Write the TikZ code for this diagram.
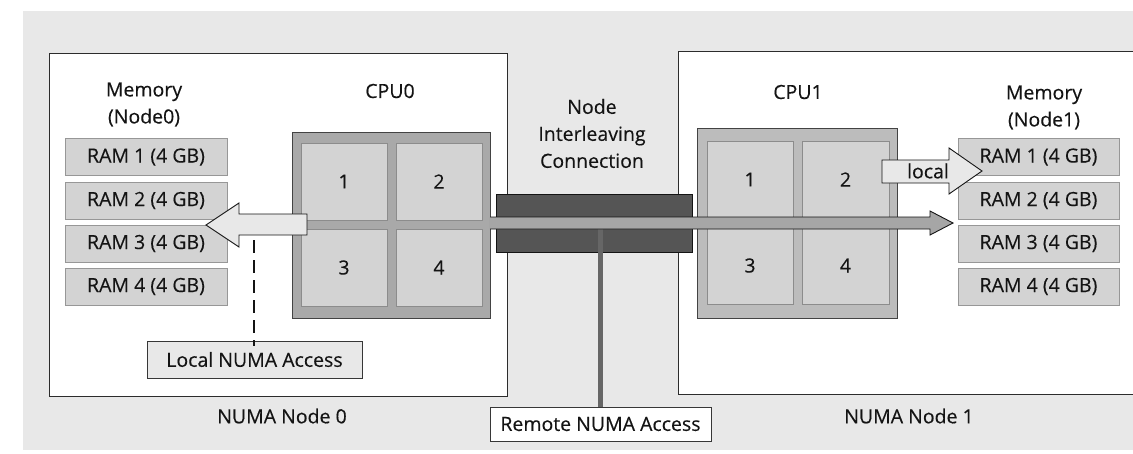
\documentclass[tikz,border=0pt]{standalone}
\usepackage{fontspec}
\setmainfont{Open Sans}[UprightFeatures={FakeBold=0.3}]
\definecolor{bggray}{HTML}{E8E8E8}
\definecolor{cellgray}{HTML}{D3D3D3}
\definecolor{cellline}{HTML}{8C8C8C}
\definecolor{cpuzero}{HTML}{A9A9A9}
\definecolor{cpuone}{HTML}{BCBCBC}
\definecolor{linkgray}{HTML}{555555}
\definecolor{pathgray}{HTML}{A6A6A6}
\definecolor{wiregray}{HTML}{666666}
\definecolor{ink}{HTML}{141414}
\begin{document}
\begin{tikzpicture}[x=1pt,y=-1pt,
  every node/.style={font=\fontsize{19.5}{27}\selectfont, text=ink, inner sep=0pt},
  sized/.style n args={2}{minimum width=#1pt, minimum height=#2pt, rectangle},
  nodebox/.style={draw=ink!90, line width=0.9pt, fill=white},
  rambox/.style={draw=cellline!90, line width=0.9pt, fill=cellgray},
  cpubox/.style={draw=ink!80, line width=1pt},
  cellbox/.style={draw=cellline, line width=0.9pt, fill=cellgray},
  tagbox/.style={draw=ink!85, line width=0.9pt},
  blockarrow/.style={draw=ink, line width=0.9pt, fill=bggray, line join=miter},
  label/.style={align=center}
]
\useasboundingbox (0,0) rectangle (1133,453);
\clip (0,0) rectangle (1133,453);

% page background
\fill[bggray] (23,11) rectangle (1160,450);

% the two NUMA nodes
\node[nodebox, sized={458}{343}] (numa0) at (278,224.5) {};
\node[nodebox, sized={500}{343}] (numa1) at (928,222.5) {};
\node (numa0lbl) at (282,416) {NUMA Node 0};
\node (numa1lbl) at (909,416) {NUMA Node 1};

% headings
\node[label] (mem0lbl) at (144,104.5) {Memory\\(Node0)};
\node (cpu0lbl) at (390,91) {CPU0};
\node (cpu1lbl) at (798,92) {CPU1};
\node[label] (mem1lbl) at (1044,107.5) {Memory\\(Node1)};
\node[label] (linklbl) at (592,133.5) {Node\\Interleaving\\Connection};

% memory banks
\foreach \i/\y in {1/157,2/200.5,3/243.5,4/286.5}{
  \node[rambox, sized={162}{37}] (ramL\i) at (146,\y) {RAM \i\ (4 GB)};
  \node[rambox, sized={161}{37}] (ramR\i) at (1038.5,\y) {RAM \i\ (4 GB)};
}

% CPU0 with its four cores
\node[cpubox, fill=cpuzero, sized={198}{186}] (cpu0) at (391,225) {};
\node[cellbox, sized={86}{77}] (c0a) at (344,181.5) {1};
\node[cellbox, sized={86}{77}] (c0b) at (439,181.5) {2};
\node[cellbox, sized={86}{77}] (c0c) at (344,267.5) {3};
\node[cellbox, sized={86}{77}] (c0d) at (439,267.5) {4};

% CPU1 with its four cores
\node[cpubox, fill=cpuone, sized={200}{190}] (cpu1) at (797,223) {};
\node[cellbox, sized={86}{77}] (c1a) at (750,179.5) {1};
\node[cellbox, sized={87}{77}] (c1b) at (845.5,179.5) {2};
\node[cellbox, sized={86}{77}] (c1c) at (750,265.5) {3};
\node[cellbox, sized={87}{77}] (c1d) at (845.5,265.5) {4};

% interconnect bar
\node[draw=ink, line width=1pt, fill=linkgray, sized={196}{58}] (link) at (594,223) {};

% remote access tag and its wire
\node[tagbox, fill=white, sized={221}{34}] (remote) at (600.5,424) {Remote NUMA Access};
\coordinate (wiretop) at (600.5,229);
\draw[wiregray, line width=5pt] (wiretop) -- (remote.north);

% remote path from CPU0 across to the memory of node 1
\fill[pathgray] (489,217) -- (930,217) -- (930,211) -- (953,223) -- (930,235) -- (930,229) -- (489,229) -- cycle;
\draw[ink, line width=0.9pt, line join=miter] (490,217) -- (930,217) -- (930,211) -- (953,223) -- (930,235) -- (930,229) -- (490,229);

% local access of CPU0
\draw[blockarrow] (307,214) -- (239,214) -- (239,203) -- (206,225) -- (239,247) -- (239,235) -- (307,235) -- cycle;
\coordinate (localfoot) at (254,240);
\node[tagbox, fill=bggray, sized={215}{37}] (localtag) at (254.5,359.5) {Local NUMA Access};
\draw[ink, line width=1.3pt, dash pattern=on 13pt off 7pt] (localfoot) -- ([xshift=-0.5pt,yshift=-5pt]localtag.north);

% local access of CPU1
\draw[blockarrow] (882,160) -- (949,160) -- (949,148) -- (982,171) -- (949,194) -- (949,183) -- (882,183) -- cycle;
\node (locallbl) at (928,171) {local};
\end{tikzpicture}
\end{document}
